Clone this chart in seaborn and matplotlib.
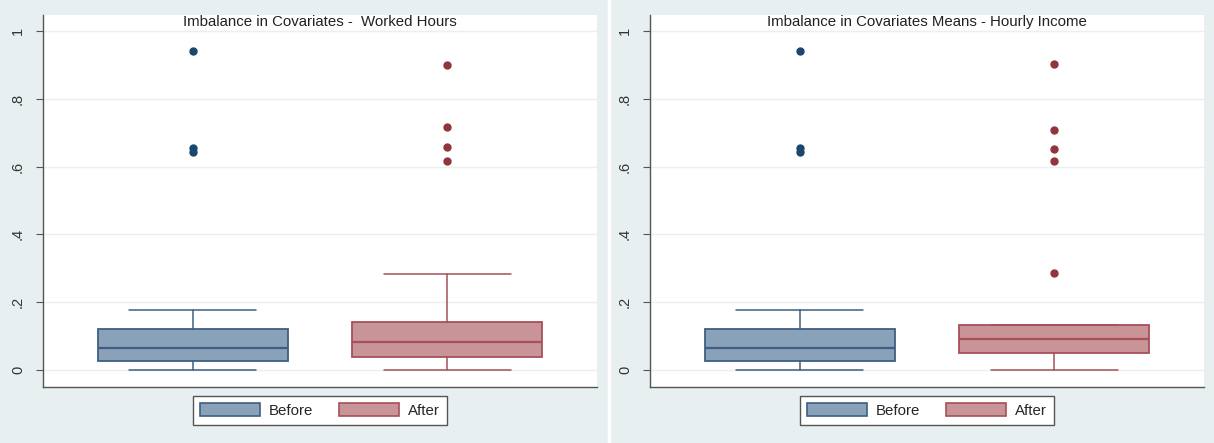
import matplotlib
matplotlib.use("Agg")
import matplotlib.pyplot as plt
import seaborn as sns
from matplotlib.patches import Patch
from matplotlib.lines import Line2D

# 데이터
groups = ["Before", "After"]
panel_titles = ["Imbalance in Covariates -  Worked Hours",
                "Imbalance in Covariates Means - Hourly Income"]

# box stats: [whislo, q1, med, q3, whishi]
hours_before_box = [0.0, 0.0265, 0.064, 0.120, 0.176]
hours_before_out = [0.940, 0.656, 0.644]
hours_after_box = [0.0, 0.038, 0.0835, 0.141, 0.283]
hours_after_out = [0.900, 0.716, 0.659, 0.615]

income_before_box = [0.0, 0.0265, 0.064, 0.120, 0.176]
income_before_out = [0.940, 0.656, 0.643]
income_after_box = [0.0, 0.049, 0.0905, 0.134, 0.134]
income_after_out = [0.903, 0.708, 0.651, 0.617, 0.285]

ytick_vals = [0, 0.2, 0.4, 0.6, 0.8, 1.0]
ytick_labels = ["0", ".2", ".4", ".6", ".8", "1"]

# 색상 (Stata s2color 느낌)
fill_colors = ["#8aa1ba", "#c99498"]
edge_colors = ["#3e5f82", "#a65058"]
dot_colors = ["#1a476f", "#90353b"]
bg_color = "#e8eff1"

sns.set_style("white")
plt.rcParams["font.family"] = ["Liberation Sans", "DejaVu Sans"]


def box_stats(vals, outs):
    lo, q1, med, q3, hi = vals
    return dict(whislo=lo, q1=q1, med=med, q3=q3, whishi=hi, fliers=outs)


def draw_panel(ax, boxes, title):
    for i, (vals, outs) in enumerate(boxes):
        ax.bxp([box_stats(vals, outs)], positions=[i], widths=0.75,
               capwidths=0.5, patch_artist=True, showfliers=True,
               boxprops=dict(facecolor=fill_colors[i], edgecolor=edge_colors[i], linewidth=1.3),
               medianprops=dict(color=edge_colors[i], linewidth=1.6),
               whiskerprops=dict(color=edge_colors[i], linewidth=1.1),
               capprops=dict(color=edge_colors[i], linewidth=1.1),
               flierprops=dict(marker="o", markerfacecolor=dot_colors[i],
                               markeredgecolor=dot_colors[i], markersize=5))

    ax.set_xlim(-0.59, 1.59)
    ax.set_ylim(-0.05, 1.047)
    ax.set_facecolor("white")
    ax.set_xticks([])
    ax.set_yticks(ytick_vals)
    ax.set_yticklabels(ytick_labels, rotation=90, va="center", fontsize=10.5, color="#333333")
    ax.tick_params(axis="y", left=True, length=5, width=0.8, color="#555555", pad=8)
    ax.grid(axis="y", color="#eaf0f2", linewidth=1)
    ax.set_axisbelow(True)
    for side in ["top", "right"]:
        ax.spines[side].set_visible(False)
    for side in ["left", "bottom"]:
        ax.spines[side].set_color("#555555")
        ax.spines[side].set_linewidth(1.0)

    ax.text(0.5, 0.981, title, transform=ax.transAxes, ha="center", va="center",
            fontsize=10.8, color="#222222")

    handles = [Patch(facecolor=fill_colors[i], edgecolor=edge_colors[i], linewidth=1.2, label=g)
               for i, g in enumerate(groups)]
    leg = ax.legend(handles=handles, loc="center", bbox_to_anchor=(0.5, -0.063), ncol=2,
                    fontsize=10.8, handlelength=4.0, handleheight=1.0, handletextpad=0.6,
                    columnspacing=1.7, borderpad=0.45, borderaxespad=0, fancybox=False,
                    framealpha=1, edgecolor="#555555")
    leg.get_frame().set_linewidth(1.0)


fig = plt.figure(figsize=(12.14, 4.43), dpi=100, facecolor=bg_color)
ax1 = fig.add_axes([43 / 1214, 56 / 443, 554 / 1214, 372 / 443])
ax2 = fig.add_axes([650 / 1214, 56 / 443, 554 / 1214, 372 / 443])

draw_panel(ax1, [(hours_before_box, hours_before_out), (hours_after_box, hours_after_out)],
           panel_titles[0])
draw_panel(ax2, [(income_before_box, income_before_out), (income_after_box, income_after_out)],
           panel_titles[1])

# 두 패널 사이 구분선
fig.add_artist(Line2D([609 / 1214, 609 / 1214], [0, 1], color="white", linewidth=2.5))

fig.savefig("out.png", dpi=100, facecolor=bg_color)
